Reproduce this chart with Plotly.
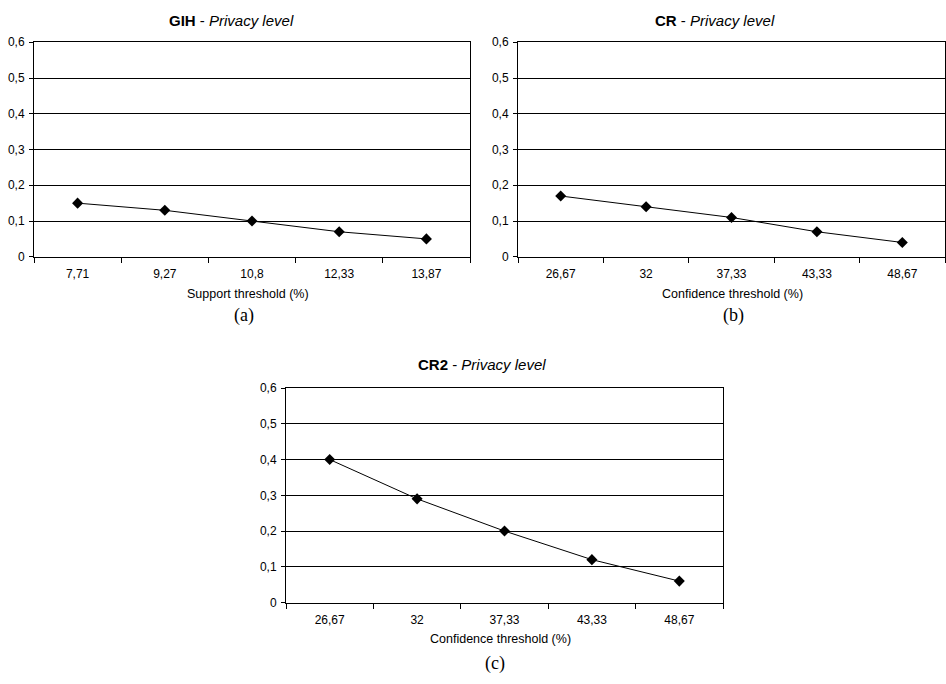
import plotly.graph_objects as go

W, H = 946, 684

cats_a = ["7,71", "9,27", "10,8", "12,33", "13,87"]
vals_a = [0.15, 0.13, 0.10, 0.07, 0.05]

cats_b = ["26,67", "32", "37,33", "43,33", "48,67"]
vals_b = [0.17, 0.14, 0.11, 0.07, 0.04]

cats_c = ["26,67", "32", "37,33", "43,33", "48,67"]
vals_c = [0.40, 0.29, 0.20, 0.12, 0.06]

titles = ["<b>GIH</b> - <i>Privacy level</i>",
          "<b>CR</b> - <i>Privacy level</i>",
          "<b>CR2</b> - <i>Privacy level</i>"]
xtitles = ["Support threshold (%)", "Confidence threshold (%)", "Confidence threshold (%)"]
labels = ["(a)", "(b)", "(c)"]

# pixel boxes: (left, right, top, bottom)
boxes = [(34, 470, 36, 255), (518, 945, 36, 255), (286, 723, 389, 608)]
title_pos = [(231, 14), (715, 14), (482, 365)]
xtitle_pos = [(248, 293), (732, 293), (500, 645)]
label_pos = [(244, 315), (733, 315), (495, 670)]

SANS = "Arial"
SERIF = "Times New Roman"


def px(x):
    return x / W


def py(y):
    return 1 - y / H


fig = go.Figure()
data = [(cats_a, vals_a), (cats_b, vals_b), (cats_c, vals_c)]
for i, (cats, vals) in enumerate(data):
    n = "" if i == 0 else str(i + 1)
    fig.add_trace(go.Scatter(
        x=cats, y=vals, mode="lines+markers",
        line=dict(color="black", width=1),
        marker=dict(symbol="diamond", size=8.5, color="black"),
        xaxis="x" + n, yaxis="y" + n, showlegend=False,
        cliponaxis=False,
    ))
    l, r, t, b = boxes[i]
    fig.layout["xaxis" + n] = dict(
        domain=[px(l), px(r)], anchor="y" + n, type="category",
        range=[-0.5, 4.5], tickson="boundaries", ticks="outside", ticklen=5,
        tickcolor="black", showline=True, linecolor="black", linewidth=1,
        mirror=True, showgrid=False, zeroline=False, ticklabelstandoff=6,
        tickfont=dict(family=SANS, size=12, color="black"),
        fixedrange=True,
    )
    fig.layout["yaxis" + n] = dict(
        domain=[py(b), py(t)], anchor="x" + n, range=[0, 0.6], dtick=0.1,
        ticks="outside", ticklen=4, tickcolor="black", showline=True,
        linecolor="black", linewidth=1, mirror=True, showgrid=True,
        gridcolor="black", gridwidth=1, zeroline=False, ticklabelstandoff=2,
        tickfont=dict(family=SANS, size=12, color="black"),
        fixedrange=True,
    )
    tx, ty = title_pos[i]
    fig.add_annotation(text=titles[i], x=px(tx), y=py(ty), xref="paper", yref="paper",
                       showarrow=False, xanchor="center", yanchor="middle",
                       font=dict(family=SANS, size=15, color="black"))
    ax, ay = xtitle_pos[i]
    fig.add_annotation(text=xtitles[i], x=px(ax), y=py(ay), xref="paper", yref="paper",
                       showarrow=False, xanchor="center", yanchor="middle",
                       font=dict(family=SANS, size=12.5, color="black"))
    lx, ly = label_pos[i]
    fig.add_annotation(text=labels[i], x=px(lx), y=py(ly), xref="paper", yref="paper",
                       showarrow=False, xanchor="center", yanchor="middle",
                       font=dict(family=SERIF, size=18, color="black"))

fig.update_layout(
    width=W, height=H, margin=dict(l=0, r=0, t=0, b=0),
    paper_bgcolor="white", plot_bgcolor="white", separators=", ",
)

fig.write_html("out.html")
